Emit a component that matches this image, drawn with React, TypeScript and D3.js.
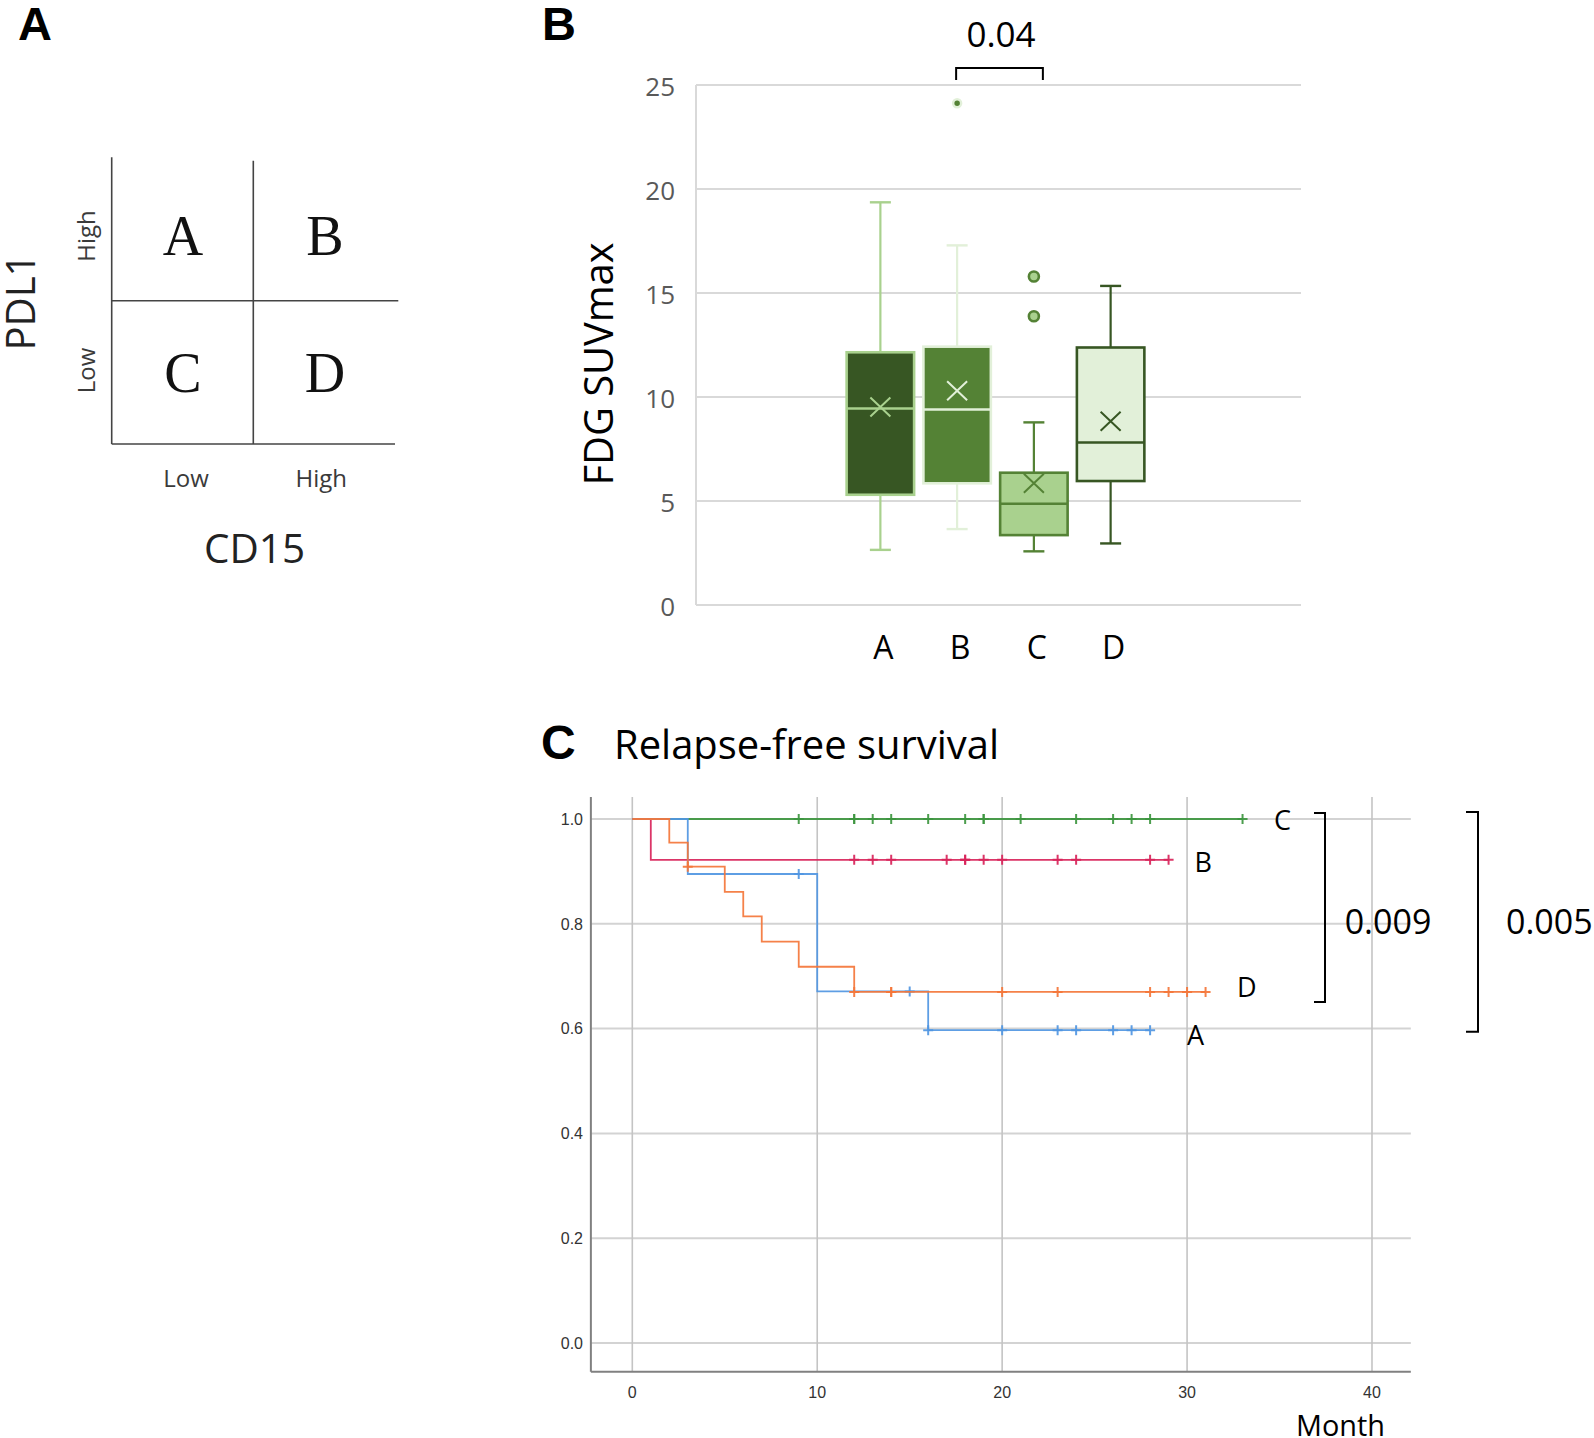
import React from 'react';
import * as d3 from 'd3';

// ---------- Panel A: quadrant schematic ----------
const quadRowLabels = ['High', 'Low'];
const quadColLabels = ['Low', 'High'];
const quadLetters = [['A', 'B'], ['C', 'D']];

// ---------- Panel B: FDG SUVmax box plots ----------
const groups = ['A', 'B', 'C', 'D'];
const suvMin = [2.65, 3.65, 2.58, 2.96];
const suvQ1 = [5.3, 5.85, 3.36, 5.96];
const suvMedian = [9.45, 9.4, 4.87, 7.81];
const suvQ3 = [12.15, 12.42, 6.36, 12.38];
const suvMax = [19.36, 17.29, 8.78, 15.34];
const suvMean = [9.52, 10.3, 5.85, 8.83];
const suvOutliers = [[], [24.12], [15.79, 13.88], []];
const suvTicks = [0, 5, 10, 15, 20, 25];

// ---------- Panel C: Kaplan-Meier relapse-free survival ----------
const aEventMonths = [0, 3, 10, 16];
const aSurvival = [1, 0.895, 0.671, 0.597];
const aCensored = [9, 15, 16, 20, 23, 24, 26, 27, 28];

const bEventMonths = [0, 1];
const bSurvival = [1, 0.922];
const bCensored = [12, 13, 14, 17, 18, 18, 19, 20, 23, 24, 28, 29];

const cEventMonths = [0];
const cSurvival = [1];
const cCensored = [9, 12, 12, 13, 14, 16, 18, 19, 19, 21, 24, 26, 27, 28, 33];

const dEventMonths = [0, 2, 3, 5, 6, 7, 9, 12];
const dSurvival = [1, 0.955, 0.909, 0.861, 0.814, 0.766, 0.718, 0.67];
const dCensored = [3, 12, 14, 14, 20, 23, 28, 29, 30, 31];

const kmDrawOrder = ['C', 'B', 'A', 'D'];
const monthTicks = [0, 10, 20, 30, 40];
const survTicks = [0, 0.2, 0.4, 0.6, 0.8, 1.0];
// label anchors (month, survival level of text baseline)
const kmLabelMonth = [30.0, 30.4, 34.7, 32.7];
const kmLabelLevel = [0.569, 0.899, 0.979, 0.661];

// ---------- styles ----------
const boxFill = ['#375623', '#548235', '#a9d18e', '#e2f0d9'];
const boxStroke = ['#a9d18e', '#e2f0d9', '#548235', '#375623'];
const kmColor: Record<string, string> = { A: '#5096e2', B: '#d8245a', C: '#3d963f', D: '#f4763a' };

const sans = "'Open Sans', 'Noto Sans', sans-serif";
const arial = "'Liberation Sans', Arial, sans-serif";
const serif = "'Liberation Serif', 'DejaVu Serif', serif";

function survAt(months: number[], surv: number[], t: number) {
  let s = surv[0];
  for (let i = 0; i < months.length; i++) if (months[i] <= t) s = surv[i];
  return s;
}

export default function App() {
  // ---------- Panel A ----------
  const qMidX = 253.3;
  const qMidY = 300.7;

  // ---------- Panel B ----------
  const yB = d3.scaleLinear().domain([0, 25]).range([605, 85]);
  const xB = d3.scaleBand<string>().domain(groups).range([842, 1149]).paddingInner(0.087).paddingOuter(0.0435);
  const bLeft = 696;
  const bRight = 1301;
  const bw = xB.bandwidth();
  const capW = bw * 0.3;

  // ---------- Panel C ----------
  const xC = d3.scaleLinear().domain([0, 40]).range([632.3, 1372]);
  const yC = d3.scaleLinear().domain([0, 1]).range([1343, 819]);
  const cLeft = xC(-2.24);
  const cRight = xC(42.1);
  const cTop = yC(1.042);
  const cBottom = yC(-0.055);

  const kmTable: Record<string, { months: number[]; surv: number[]; cens: number[] }> = {
    A: { months: aEventMonths, surv: aSurvival, cens: aCensored },
    B: { months: bEventMonths, surv: bSurvival, cens: bCensored },
    C: { months: cEventMonths, surv: cSurvival, cens: cCensored },
    D: { months: dEventMonths, surv: dSurvival, cens: dCensored },
  };
  const stepLine = d3
    .line<[number, number]>()
    .x((d) => xC(d[0]))
    .y((d) => yC(d[1]))
    .curve(d3.curveStepAfter);

  const cmV = 5; // censor mark half-height
  const cmH = 5; // censor mark half-width

  return (
    <svg
      width={1594}
      height={1438}
      style={{ position: 'absolute', left: 0, top: 0, display: 'block', background: '#fff' }}
    >
      <rect x={0} y={0} width={1594} height={1438} fill="#fff" />

      {/* ================= Panel A ================= */}
      <text x={18} y={39.5} fontFamily={arial} fontWeight="bold" fontSize={47} fill="#000">A</text>
      <g stroke="#444" strokeWidth={1.6} fill="none">
        <line x1={111.7} y1={157.3} x2={111.7} y2={444} />
        <line x1={qMidX} y1={160.7} x2={qMidX} y2={444} />
        <line x1={111.7} y1={qMidY} x2={398.3} y2={qMidY} />
        <line x1={111.7} y1={444} x2={395} y2={444} />
      </g>
      {quadLetters.map((row, r) =>
        row.map((letter, c) => (
          <text
            key={letter}
            x={c === 0 ? 183 : 325}
            y={r === 0 ? 255 : 392}
            textAnchor="middle"
            fontFamily={serif}
            fontSize={56}
            fill="#111"
          >
            {letter}
          </text>
        ))
      )}
      {quadRowLabels.map((lab, r) => (
        <text
          key={'r' + lab}
          transform={`translate(95,${r === 0 ? 236 : 370.5}) rotate(-90)`}
          textAnchor="middle"
          fontFamily={sans}
          fontSize={24}
          fill="#3a3a3a"
        >
          {lab}
        </text>
      ))}
      {quadColLabels.map((lab, c) => (
        <text
          key={'c' + lab}
          x={c === 0 ? 186 : 321.3}
          y={486.7}
          textAnchor="middle"
          fontFamily={sans}
          fontSize={24}
          fill="#3a3a3a"
        >
          {lab}
        </text>
      ))}
      <text
        transform="translate(35,302) rotate(-90)"
        textAnchor="middle"
        fontFamily={sans}
        fontSize={40}
        fill="#222"
        textLength={97}
        lengthAdjust="spacingAndGlyphs"
      >
        PDL1
      </text>
      <text x={254.5} y={563} textAnchor="middle" fontFamily={sans} fontSize={40} fill="#222" textLength={101} lengthAdjust="spacingAndGlyphs">
        CD15
      </text>

      {/* ================= Panel B ================= */}
      <text x={542} y={39.5} fontFamily={arial} fontWeight="bold" fontSize={47} fill="#000">B</text>
      {/* gridlines */}
      <g stroke="#d9d9d9" strokeWidth={2}>
        {suvTicks.map((t) => (
          <line key={t} x1={bLeft} x2={bRight} y1={yB(t)} y2={yB(t)} />
        ))}
        <line x1={bLeft} x2={bLeft} y1={yB(25)} y2={yB(0)} />
      </g>
      {suvTicks.map((t) => (
        <text key={'yt' + t} x={675} y={yB(t) + 1.5} dy="0.35em" textAnchor="end" fontFamily={sans} fontSize={26} fill="#595959">
          {t}
        </text>
      ))}
      <text
        transform={`translate(613,${(yB(0) + yB(25)) / 2 + 19}) rotate(-90)`}
        textAnchor="middle"
        fontFamily={sans}
        fontSize={40}
        fill="#000"
        textLength={243}
        lengthAdjust="spacingAndGlyphs"
      >
        FDG SUVmax
      </text>
      {groups.map((g, i) => {
        const x0 = xB(g)!;
        const cx = x0 + bw / 2;
        const s = boxStroke[i];
        return (
          <g key={g}>
            {/* whiskers */}
            <line x1={cx} x2={cx} y1={yB(suvMax[i])} y2={yB(suvQ3[i])} stroke={s} strokeWidth={2.2} />
            <line x1={cx} x2={cx} y1={yB(suvQ1[i])} y2={yB(suvMin[i])} stroke={s} strokeWidth={2.2} />
            <line x1={cx - capW / 2} x2={cx + capW / 2} y1={yB(suvMax[i])} y2={yB(suvMax[i])} stroke={s} strokeWidth={2.4} />
            <line x1={cx - capW / 2} x2={cx + capW / 2} y1={yB(suvMin[i])} y2={yB(suvMin[i])} stroke={s} strokeWidth={2.4} />
            {/* box */}
            <rect
              x={x0 + 1.3}
              width={bw - 2.6}
              y={yB(suvQ3[i])}
              height={yB(suvQ1[i]) - yB(suvQ3[i])}
              fill={boxFill[i]}
              stroke={s}
              strokeWidth={2.6}
            />
            <line x1={x0 + 1.3} x2={x0 + bw - 1.3} y1={yB(suvMedian[i])} y2={yB(suvMedian[i])} stroke={s} strokeWidth={2.6} />
            {/* mean marker */}
            <path
              d={`M${cx - 10},${yB(suvMean[i]) - 9.5}L${cx + 10},${yB(suvMean[i]) + 9.5}M${cx - 10},${yB(suvMean[i]) + 9.5}L${cx + 10},${yB(suvMean[i]) - 9.5}`}
              stroke={s}
              strokeWidth={2}
              fill="none"
            />
            {/* outliers */}
            {suvOutliers[i].map((v, k) =>
              i === 1 ? (
                <circle key={k} cx={cx} cy={yB(v)} r={4} fill={boxFill[1]} stroke={boxStroke[1]} strokeWidth={2.5} />
              ) : (
                <circle key={k} cx={cx} cy={yB(v)} r={5} fill={boxFill[i]} stroke={s} strokeWidth={2.6} />
              )
            )}
            <text x={cx + 3} y={658.5} textAnchor="middle" fontFamily={sans} fontSize={32} fill="#000">
              {g}
            </text>
          </g>
        );
      })}
      {/* significance bracket B vs C */}
      <path
        d={`M${xB('B')! + bw / 2 - 1},80V68H${xB('C')! + bw / 2 + 9}V80`}
        stroke="#000"
        strokeWidth={2}
        fill="none"
      />
      <text x={1001} y={46.5} textAnchor="middle" fontFamily={sans} fontSize={35} fill="#000">0.04</text>

      {/* ================= Panel C ================= */}
      <text x={541} y={759} fontFamily={arial} fontWeight="bold" fontSize={48} fill="#000">C</text>
      <text x={614} y={759} fontFamily={sans} fontSize={40} fill="#000" textLength={385} lengthAdjust="spacingAndGlyphs">
        Relapse-free survival
      </text>
      {/* gridlines */}
      <g stroke="#d3d3d3" strokeWidth={2}>
        {survTicks.map((t) => (
          <line key={t} x1={cLeft} x2={cRight} y1={yC(t)} y2={yC(t)} />
        ))}
      </g>
      <g stroke="#c4c4c4" strokeWidth={1.6}>
        {monthTicks.map((t) => (
          <line key={t} x1={xC(t)} x2={xC(t)} y1={cTop} y2={cBottom} />
        ))}
      </g>
      <g stroke="#808080" strokeWidth={2}>
        <line x1={cLeft} x2={cLeft} y1={cTop} y2={cBottom} />
        <line x1={cLeft} x2={cRight} y1={cBottom} y2={cBottom} />
      </g>
      {survTicks.map((t) => (
        <text key={'st' + t} x={583} y={yC(t)} dy="0.36em" textAnchor="end" fontFamily={arial} fontSize={16} fill="#333">
          {t.toFixed(1)}
        </text>
      ))}
      {monthTicks.map((t) => (
        <text key={'mt' + t} x={xC(t)} y={1397.5} textAnchor="middle" fontFamily={arial} fontSize={16} fill="#333">
          {t}
        </text>
      ))}
      <text x={1340.5} y={1436} textAnchor="middle" fontFamily={sans} fontSize={30} fill="#000" textLength={89} lengthAdjust="spacingAndGlyphs">
        Month
      </text>

      {kmDrawOrder.map((g) => {
        const { months, surv, cens } = kmTable[g];
        const last = Math.max(...cens);
        const pts: [number, number][] = months.map((m, i) => [m, surv[i]] as [number, number]);
        pts.push([last, surv[surv.length - 1]]);
        return (
          <g key={g} stroke={kmColor[g]} fill="none" strokeOpacity={0.92}>
            <path d={stepLine(pts)!} strokeWidth={1.8} />
            {cens.map((t, k) => {
              const cx = xC(t);
              const cy = yC(survAt(months, surv, t));
              return (
                <path key={k} d={`M${cx},${cy - cmV}V${cy + cmV}M${cx - cmH},${cy}H${cx + cmH}`} strokeWidth={2} />
              );
            })}
          </g>
        );
      })}
      {groups.map((g, i) => (
        <text key={'kl' + g} x={xC(kmLabelMonth[i])} y={yC(kmLabelLevel[i])} fontFamily={sans} fontSize={27} fill="#000">
          {g}
        </text>
      ))}
      {/* log-rank brackets */}
      <path
        d={`M1314,${yC(1.0115)}H1325V${yC(0.651)}H1314`}
        stroke="#000"
        strokeWidth={2}
        fill="none"
      />
      <path
        d={`M1466,${yC(1.0134)}H1478V${yC(0.594)}H1466`}
        stroke="#000"
        strokeWidth={2}
        fill="none"
      />
      <text x={1388} y={934} textAnchor="middle" fontFamily={sans} fontSize={34} fill="#000">0.009</text>
      <text x={1506} y={934} fontFamily={sans} fontSize={34} fill="#000">0.005</text>
    </svg>
  );
}
